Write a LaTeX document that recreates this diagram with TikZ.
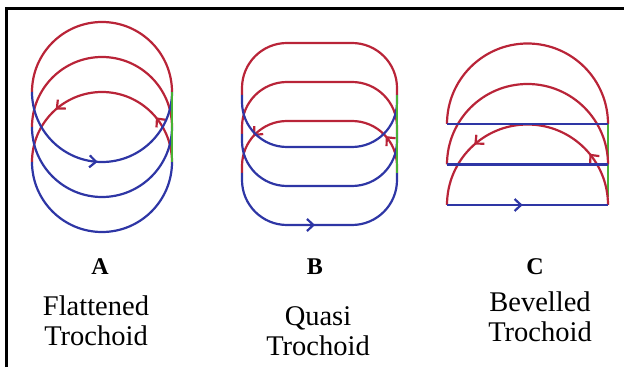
\documentclass[tikz,border=0pt]{standalone}
\usepackage{fontspec}
\setmainfont{Liberation Serif}
\usetikzlibrary{arrows.meta,decorations.markings}
\definecolor{trored}{RGB}{185,36,56}
\definecolor{troblue}{RGB}{46,54,165}
\definecolor{trogreen}{RGB}{72,178,52}
\tikzset{
  barb/.tip={Straight Barb[length=6.5pt,width=12pt]},
  upper/.style={trored,line width=2.2pt},
  lower/.style={troblue,line width=2.2pt},
  link/.style={trogreen,line width=2.4pt},
  arrowpos/.style={postaction={decorate,decoration={markings,mark=at position #1 with {\arrow{barb}}}}},
  letter/.style={font=\rmfamily\bfseries\fontsize{24}{28}\selectfont,inner sep=0pt},
  caption/.style={font=\rmfamily\fontsize{28.5}{30}\selectfont,align=center,inner sep=0pt}
}

\begin{document}
\begin{tikzpicture}[x=1pt,y=1pt]
  \useasboundingbox (0,0) rectangle (624,367);
  \draw[line width=3pt] (6.5,0) -- (6.5,358.5) -- (624,358.5);

  % A: flattened trochoid
  \coordinate (A1) at (172,275);
  \coordinate (A2) at (172,240);
  \coordinate (A3) at (172,205);
  \coordinate (A1l) at (32,275);
  \coordinate (A2l) at (32,240);
  \coordinate (A3l) at (32,205);
  \draw[upper] (A1) arc[start angle=0,end angle=180,radius=70pt];
  \draw[upper] (A2) arc[start angle=0,end angle=180,radius=70pt];
  \draw[upper,arrowpos=0.22,arrowpos=0.73] (A3) arc[start angle=0,end angle=180,radius=70pt];
  \draw[lower,arrowpos=0.48] (A1l) arc[start angle=180,end angle=360,radius=70pt];
  \draw[lower] (A2l) arc[start angle=180,end angle=360,radius=70pt];
  \draw[lower] (A3l) arc[start angle=180,end angle=360,radius=70pt];
  \draw[link] (A1) -- (A3);

  % B: quasi trochoid
  \coordinate (B1) at (397,272);
  \coordinate (B2) at (397,233);
  \coordinate (B3) at (397,194);
  \coordinate (B1l) at (242,272);
  \coordinate (B2l) at (242,233);
  \coordinate (B3l) at (242,194);
  \draw[upper,rounded corners=45pt] (B1) -- ++(0,52) -- ++(-155,0) -- (B1l);
  \draw[upper,rounded corners=45pt] (B2) -- ++(0,52) -- ++(-155,0) -- (B2l);
  \draw[upper,rounded corners=45pt,arrowpos=0.18,arrowpos=0.82] (B3) -- ++(0,52) -- ++(-155,0) -- (B3l);
  \draw[lower,rounded corners=45pt] (B1l) -- ++(0,-52) -- ++(155,0) -- (B1);
  \draw[lower,rounded corners=45pt] (B2l) -- ++(0,-52) -- ++(155,0) -- (B2);
  \draw[lower,rounded corners=45pt,arrowpos=0.48] (B3l) -- ++(0,-52) -- ++(155,0) -- (B3);
  \draw[link] (B1) -- (B3);

  % C: bevelled trochoid
  \coordinate (C1) at (608,243);
  \coordinate (C2) at (608,202.5);
  \coordinate (C3) at (608,162);
  \coordinate (C1l) at (447,243);
  \coordinate (C2l) at (447,202.5);
  \coordinate (C3l) at (447,162);
  \coordinate (Cg) at (608,170);
  \draw[link] (C1) -- (Cg);
  \draw[upper] (C1) arc[start angle=0,end angle=180,radius=80.5pt];
  \draw[upper] (C2) arc[start angle=0,end angle=180,radius=80.5pt];
  \draw[upper,arrowpos=0.22,arrowpos=0.73] (C3) arc[start angle=0,end angle=180,radius=80.5pt];
  \draw[lower] (C1l) -- (C1);
  \draw[lower] (C2l) -- (C2);
  \draw[lower,arrowpos=0.47] (C3l) -- (C3);

  \node[letter] (labA) at (100,100) {A};
  \node[letter] (labB) at (315,100) {B};
  \node[letter] (labC) at (535,100) {C};
  \node[caption] (capA) at (96,46.5) {Flattened\\Trochoid};
  \node[caption] (capB) at (318,36) {Quasi\\Trochoid};
  \node[caption] (capC) at (540,50) {Bevelled\\Trochoid};
\end{tikzpicture}
\end{document}
